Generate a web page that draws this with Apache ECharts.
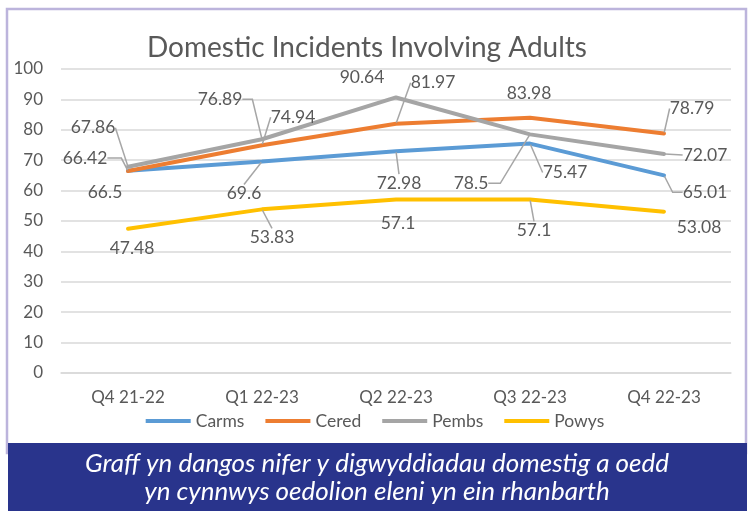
<!DOCTYPE html>
<html>
<head>
<meta charset="utf-8">
<script src="https://cdn.jsdelivr.net/npm/echarts@6/dist/echarts.min.js"></script>
<style>
	html, body { margin: 0; padding: 0; background: #fff; }
	#chart { width: 750px; height: 511px; }
</style>
</head>
<body>
<div id="chart"></div>
<script>
	var quarters = ["Q4 21-22", "Q1 22-23", "Q2 22-23", "Q3 22-23", "Q4 22-23"];
	var carms = [66.5, 69.6, 72.98, 75.47, 65.01];
	var cered = [66.42, 74.94, 81.97, 83.98, 78.79];
	var pembs = [67.86, 76.89, 90.64, 78.5, 72.07];
	var powys = [47.48, 53.83, 57.1, 57.1, 53.08];
	var yTicks = [0, 10, 20, 30, 40, 50, 60, 70, 80, 90, 100];

	// label offsets from point (centre of label), leader line on/off, elbow length
	var carmsLbl = [[-23, 22, 0, 0], [-18, 32, 1, 0], [3, 32, 1, 0], [35, 29, 1, 0], [41, 17, 1, 10]];
	var ceredLbl = [[-43, -13, 1, 14], [31, -28, 1, 0], [37, -41, 1, 0], [-1, -24, 0, 0], [28, -25, 1, 0]];
	var pembsLbl = [[-35, -39, 1, 0], [-42, -40, 1, 10], [-34, -20, 0, 0], [-59, 49, 1, 12], [41, 1, 1, 0]];
	var powysLbl = [[4, 20, 0, 0], [10, 28, 1, 0], [2, 24, 0, 0], [4, 31, 1, 0], [35, 16, 0, 0]];

	var textCol = '#595959';
	var fontName = 'Lato';

	function buildData(values, lbl) {
		var out = [];
		for(var i = 0; i < values.length; i++) {
			out.push({
				value: values[i],
				label: {
					offset: [lbl[i][0], lbl[i][1]]
				},
				labelLine: {
					show: lbl[i][2] == 1,
					length2: lbl[i][3]
				}
			});
		}
		return out;
	}

	function makeSeries(name, color, values, lbl) {
		return {
			name: name,
			type: 'line',
			data: buildData(values, lbl),
			symbol: 'circle',
			symbolSize: 2,
			showSymbol: true,
			itemStyle: { color: color },
			lineStyle: { color: color, width: 4, cap: 'round' },
			animation: false,
			label: {
				show: true,
				position: 'inside',
				align: 'center',
				verticalAlign: 'middle',
				color: textCol,
				fontFamily: fontName,
				fontSize: 17.5
			},
			labelLine: {
				lineStyle: { color: '#a6a6a6', width: 1.5 }
			},
			emphasis: { disabled: true }
		};
	}

	var chart = echarts.init(document.getElementById('chart'));
	var option = {
		backgroundColor: '#fff',
		animation: false,
		title: {
			text: 'Domestic Incidents Involving Adults',
			left: 362,
			textAlign: 'center',
			top: 29,
			textStyle: {
				color: textCol,
				fontFamily: fontName,
				fontWeight: 'normal',
				fontSize: 28
			}
		},
		legend: {
			data: ['Carms', 'Cered', 'Pembs', 'Powys'],
			left: 'center',
			top: 407,
			itemWidth: 45,
			itemHeight: 4,
			itemGap: 21,
			icon: 'rect',
			textStyle: {
				color: textCol,
				fontFamily: fontName,
				fontSize: 17.5
			}
		},
		grid: {
			left: 61,
			right: 19,
			top: 69,
			bottom: 138
		},
		xAxis: {
			type: 'category',
			data: quarters,
			boundaryGap: true,
			axisLine: { show: true, lineStyle: { color: '#d9d9d9', width: 1.5 } },
			axisTick: { show: false },
			axisLabel: {
				color: textCol,
				fontFamily: fontName,
				fontSize: 17,
				margin: 16
			}
		},
		yAxis: {
			type: 'value',
			min: yTicks[0],
			max: yTicks[yTicks.length - 1],
			interval: 10,
			axisLine: { show: false },
			axisTick: { show: false },
			splitLine: { lineStyle: { color: '#d9d9d9', width: 1.5 } },
			axisLabel: {
				color: textCol,
				fontFamily: fontName,
				fontSize: 17,
				margin: 18
			}
		},
		graphic: [{
			type: 'rect',
			shape: { x: 7, y: 9, width: 739, height: 444 },
			style: { fill: null, stroke: '#bcb4dc', lineWidth: 2.5 },
			z: -1
		}, {
			type: 'rect',
			shape: { x: 8, y: 443, width: 739, height: 68 },
			style: { fill: '#29348c' },
			z: 10
		}, {
			type: 'text',
			x: 377,
			y: 478,
			z: 11,
			style: {
				text: 'Graff yn dangos nifer y digwyddiadau domestig a oedd\nyn cynnwys oedolion eleni yn ein rhanbarth',
				fill: '#fff',
				font: 'italic 26px Lato',
				align: 'center',
				verticalAlign: 'middle',
				lineHeight: 28
			}
		}],
		series: [
			makeSeries('Carms', '#5b9bd5', carms, carmsLbl),
			makeSeries('Cered', '#ed7d31', cered, ceredLbl),
			makeSeries('Pembs', '#a5a5a5', pembs, pembsLbl),
			makeSeries('Powys', '#ffc000', powys, powysLbl)
		]
	};
	chart.setOption(option);
</script>
</body>
</html>
